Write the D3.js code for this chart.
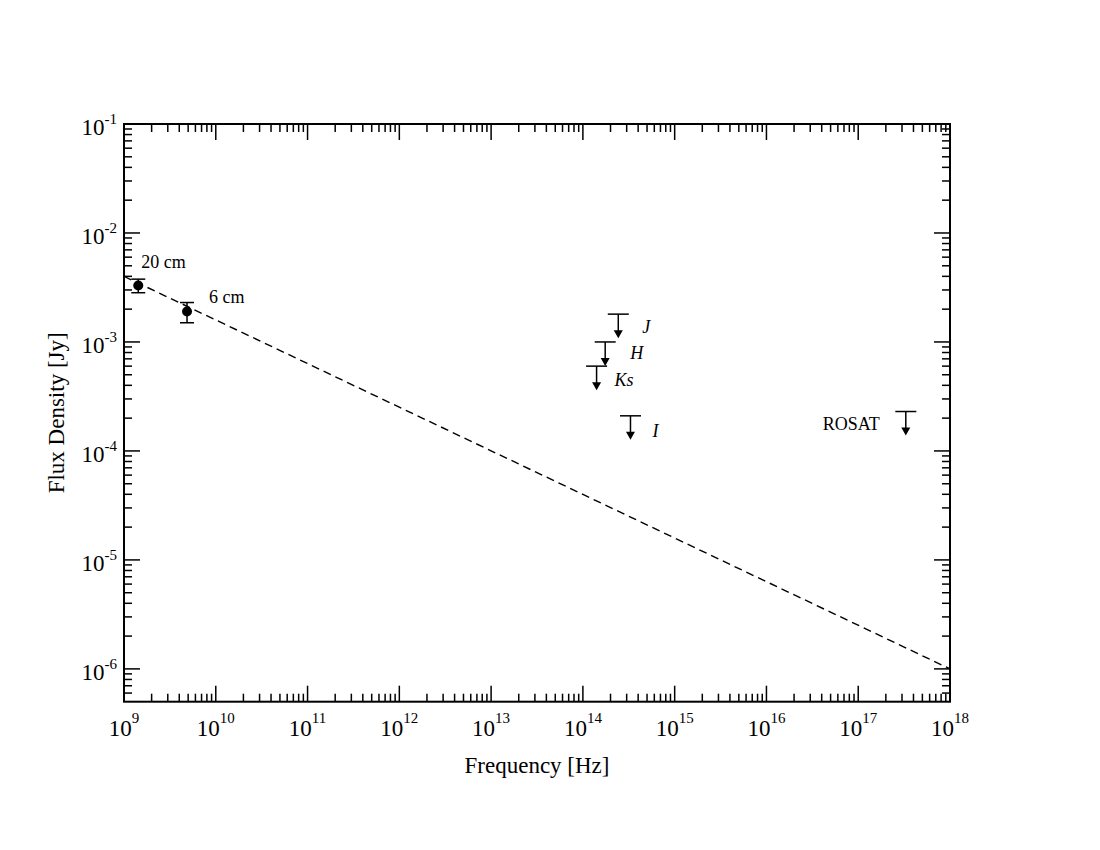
<!DOCTYPE html>
<html>
<head>
<meta charset="utf-8">
<script src="https://cdn.jsdelivr.net/npm/d3@7"></script>
<style>
  html, body { margin: 0; padding: 0; background: #fff; }
  svg text { font-family: "Liberation Serif", "Times New Roman", serif; fill: #000; }
</style>
</head>
<body>
<svg id="chart" width="1100" height="850"></svg>
<script>
// ---- data ----
const detNu = [1.43e9, 4.86e9];
const detFlux = [3.3e-3, 1.9e-3];
const detErr = [0.47e-3, 0.4e-3];
const detLabels = ["20 cm", "6 cm"];

const limNu = [2.43e14, 1.75e14, 1.41e14, 3.3e14, 3.3e17];
const limFlux = [1.8e-3, 1.0e-3, 6.0e-4, 2.1e-4, 2.3e-4];
const limLabels = ["J", "H", "Ks", "I", "ROSAT"];

const fitNu = [1e9, 1e18];
const fitFlux = [4e-3, 1e-6];

const xTickExp = [9, 10, 11, 12, 13, 14, 15, 16, 17, 18];
const yTickExp = [-6, -5, -4, -3, -2, -1];

// ---- layout ----
const L = 124, R = 950, T = 124, B = 701.7;
const svg = d3.select("#chart");

const x = d3.scaleLog().domain([1e9, 1e18]).range([L, R]);
const y = d3.scaleLog().domain([5e-7, 1e-1]).range([B, T]);

const majorLen = 16, minorLen = 8;

// minor ticks
function minors(lo, hi) {
  const out = [];
  for (let e = Math.floor(Math.log10(lo)); e <= Math.ceil(Math.log10(hi)); e++) {
    for (let m = 2; m <= 9; m++) {
      const v = m * Math.pow(10, e);
      if (v > lo * 1.0001 && v < hi * 0.9999) out.push(v);
    }
  }
  return out;
}
const xMajor = xTickExp.map(e => Math.pow(10, e));
const yMajor = yTickExp.map(e => Math.pow(10, e));
const xMinor = minors(1e9, 1e18);
const yMinor = minors(5e-7, 1e-1);

const ticks = svg.append("g").attr("stroke", "#000").attr("stroke-width", 1.5);
// bottom & top
[[B, -1], [T, 1]].forEach(([yy, dir]) => {
  xMajor.forEach(v => ticks.append("line")
    .attr("x1", x(v)).attr("x2", x(v)).attr("y1", yy).attr("y2", yy + dir * majorLen));
  xMinor.forEach(v => ticks.append("line")
    .attr("x1", x(v)).attr("x2", x(v)).attr("y1", yy).attr("y2", yy + dir * minorLen));
});
// left & right
[[L, 1], [R, -1]].forEach(([xx, dir]) => {
  yMajor.forEach(v => ticks.append("line")
    .attr("y1", y(v)).attr("y2", y(v)).attr("x1", xx).attr("x2", xx + dir * majorLen));
  yMinor.forEach(v => ticks.append("line")
    .attr("y1", y(v)).attr("y2", y(v)).attr("x1", xx).attr("x2", xx + dir * minorLen));
});

// frame
svg.append("rect").attr("x", L).attr("y", T).attr("width", R - L).attr("height", B - T)
  .attr("fill", "none").attr("stroke", "#000").attr("stroke-width", 2);

// tick labels
const baseSize = 23, expSize = 15;
xTickExp.forEach(e => {
  const t = svg.append("text").attr("x", x(Math.pow(10, e))).attr("y", B + 34)
    .attr("text-anchor", "middle").style("font-size", baseSize + "px");
  t.append("tspan").text("10");
  t.append("tspan").attr("dy", -13).style("font-size", expSize + "px").text(e);
});
yTickExp.forEach(e => {
  const t = svg.append("text").attr("x", L - 7).attr("y", y(Math.pow(10, e)) + 11)
    .attr("text-anchor", "end").style("font-size", baseSize + "px");
  t.append("tspan").text("10");
  t.append("tspan").attr("dy", -11).style("font-size", expSize + "px").text(e);
});

// axis titles
svg.append("text").attr("x", (L + R) / 2).attr("y", 773).attr("text-anchor", "middle")
  .style("font-size", "23px").text("Frequency [Hz]");
svg.append("text").attr("transform", `translate(64,${(T + B) / 2}) rotate(-90)`)
  .attr("text-anchor", "middle").style("font-size", "23px").text("Flux Density [Jy]");

// fit line
const clip = svg.append("clipPath").attr("id", "plotclip").append("rect")
  .attr("x", L).attr("y", T).attr("width", R - L).attr("height", B - T);
svg.append("path")
  .datum(fitNu.map((n, i) => [n, fitFlux[i]]))
  .attr("d", d3.line().x(d => x(d[0])).y(d => y(d[1])))
  .attr("fill", "none").attr("stroke", "#000").attr("stroke-width", 1.4)
  .attr("stroke-dasharray", "8,5").attr("clip-path", "url(#plotclip)");

// detections with error bars
const capW = 14;
const det = svg.append("g");
detNu.forEach((n, i) => {
  const cx = x(n), y1 = y(detFlux[i] + detErr[i]), y0 = y(detFlux[i] - detErr[i]);
  det.append("line").attr("x1", cx).attr("x2", cx).attr("y1", y1).attr("y2", y0)
    .attr("stroke", "#000").attr("stroke-width", 1.5);
  [y1, y0].forEach(yy => det.append("line").attr("x1", cx - capW / 2).attr("x2", cx + capW / 2)
    .attr("y1", yy).attr("y2", yy).attr("stroke", "#000").attr("stroke-width", 1.5));
  det.append("circle").attr("cx", cx).attr("cy", y(detFlux[i])).attr("r", 5).attr("fill", "#000");
});
const detOff = [[3, -17], [22, -9]];
detLabels.forEach((lab, i) => {
  svg.append("text").attr("x", x(detNu[i]) + detOff[i][0]).attr("y", y(detFlux[i]) + detOff[i][1])
    .style("font-size", "18px").text(lab);
});

// upper limits
const limCap = 21, arrowLen = 24, headH = 8, headW = 9;
const lim = svg.append("g");
limNu.forEach((n, i) => {
  const cx = x(n), cy = y(limFlux[i]);
  lim.append("line").attr("x1", cx - limCap / 2).attr("x2", cx + limCap / 2)
    .attr("y1", cy).attr("y2", cy).attr("stroke", "#000").attr("stroke-width", 1.5);
  lim.append("line").attr("x1", cx).attr("x2", cx).attr("y1", cy).attr("y2", cy + arrowLen - headH + 1)
    .attr("stroke", "#000").attr("stroke-width", 1.5);
  lim.append("path")
    .attr("d", `M${cx - headW / 2},${cy + arrowLen - headH} L${cx + headW / 2},${cy + arrowLen - headH} L${cx},${cy + arrowLen} Z`)
    .attr("fill", "#000");
});
const limOff = [[24, 19], [25, 17], [18, 20], [22, 21], [-26, 18]];
limLabels.forEach((lab, i) => {
  const isItalic = lab !== "ROSAT";
  svg.append("text").attr("x", x(limNu[i]) + limOff[i][0]).attr("y", y(limFlux[i]) + limOff[i][1])
    .attr("text-anchor", isItalic ? "start" : "end")
    .style("font-size", "18px").style("font-style", isItalic ? "italic" : "normal").text(lab);
});
</script>
</body>
</html>
